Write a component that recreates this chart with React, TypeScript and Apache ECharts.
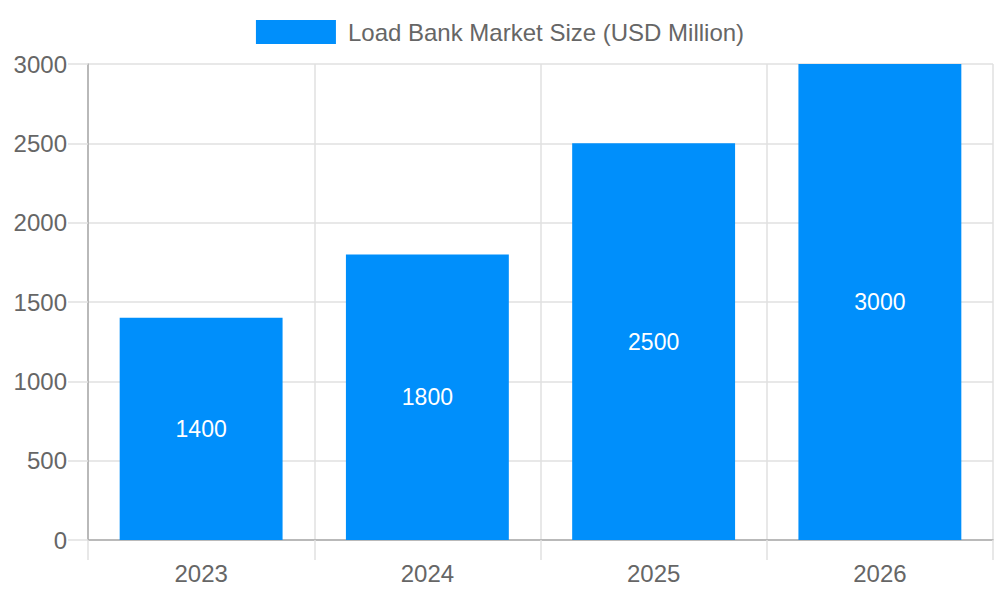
import React, { useEffect, useRef } from "react";
import * as echarts from "echarts";

const categories = ["2023", "2024", "2025", "2026"];
const marketSize = [1400, 1800, 2500, 3000];
const seriesName = "Load Bank Market Size (USD Million)";

export default function App() {
  const ref = useRef<HTMLDivElement>(null);
  useEffect(() => {
    if (!ref.current) return;
    const chart = echarts.init(ref.current, undefined, { renderer: "svg" });
    const font = "Liberation Sans, Arial, Helvetica, sans-serif";
    chart.setOption({
      animation: false,
      textStyle: { fontFamily: font },
      legend: {
        top: 15,
        left: "center",
        itemWidth: 80,
        itemHeight: 24,
        itemGap: 10,
        icon: "rect",
        textStyle: { fontSize: 24, color: "#666", fontFamily: font, padding: [0, 0, 0, 7] },
        data: [seriesName],
      },
      grid: { left: 88, right: 7, top: 64, bottom: 60, containLabel: false },
      xAxis: {
        type: "category",
        data: categories,
        boundaryGap: true,
        axisLine: { show: true, lineStyle: { color: "#aaa", width: 1.5 } },
        axisTick: { show: true, length: 20, alignWithLabel: false, lineStyle: { color: "#e0e0e0", width: 1.5 } },
        splitLine: { show: true, lineStyle: { color: "#e0e0e0", width: 1.5 } },
        axisLabel: { fontSize: 24, color: "#666", margin: 21, fontFamily: font },
      },
      yAxis: {
        type: "value",
        min: 0,
        max: 3000,
        interval: 500,
        axisLine: { show: true, lineStyle: { color: "#aaa", width: 1.5 } },
        axisTick: { show: true, length: 20, lineStyle: { color: "#e0e0e0", width: 1.5 } },
        splitLine: { show: true, lineStyle: { color: "#e0e0e0", width: 1.5 } },
        axisLabel: {
          fontSize: 24,
          color: "#666",
          margin: 21,
          fontFamily: font,
          formatter: (v: number) => String(v),
        },
      },
      series: [
        {
          name: seriesName,
          type: "bar",
          data: marketSize,
          barWidth: "72%",
          itemStyle: { color: "#008FFB" },
          label: {
            show: true,
            position: "inside",
            color: "#fff",
            fontSize: 23,
            fontFamily: font,
          },
        },
      ],
    });
    return () => chart.dispose();
  }, []);
  return (
    <div
      ref={ref}
      style={{ position: "absolute", left: 0, top: 0, width: 1000, height: 600 }}
    />
  );
}
